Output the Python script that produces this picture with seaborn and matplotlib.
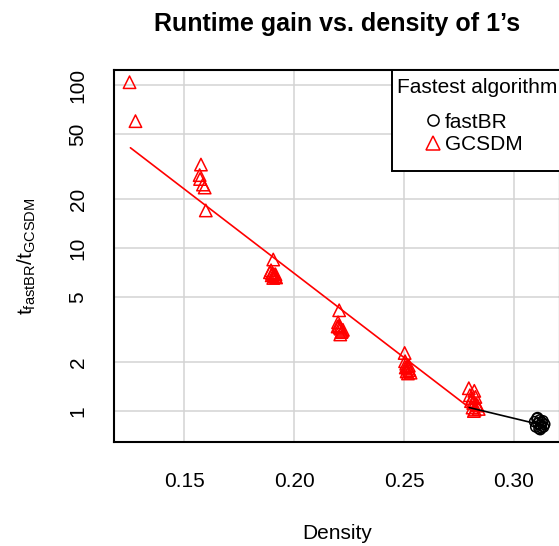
import numpy as np
import pandas as pd
import matplotlib
matplotlib.use("Agg")
import matplotlib.pyplot as plt
import seaborn as sns
from matplotlib.lines import Line2D
from matplotlib.patches import Rectangle
from matplotlib.ticker import NullLocator

# ---------------- data ----------------
gcsdm_density = [0.1251, 0.1278,
                 0.1576, 0.1570, 0.1572, 0.1585, 0.1593, 0.1598,
                 0.1905, 0.1895, 0.1900, 0.1908, 0.1912, 0.1898, 0.1918, 0.1905, 0.1915, 0.1890,
                 0.2205, 0.2200, 0.2205, 0.2212, 0.2218, 0.2208, 0.2222, 0.2198, 0.2215, 0.2210,
                 0.2503, 0.2505, 0.2510, 0.2515, 0.2520, 0.2508, 0.2525, 0.2530, 0.2512, 0.2518, 0.2522,
                 0.2795, 0.2820, 0.2800, 0.2810, 0.2825, 0.2805, 0.2815, 0.2830, 0.2812, 0.2822,
                 0.2835, 0.2840, 0.2818]
gcsdm_ratio = [104, 60,
               32.5, 28, 26.5, 24.5, 23.5, 17,
               8.5, 7.3, 7.0, 6.9, 6.7, 6.8, 6.6, 6.55, 6.9, 7.1,
               4.15, 3.5, 3.35, 3.2, 3.1, 3.25, 3.15, 3.3, 3.05, 2.95,
               2.27, 2.02, 1.95, 1.88, 1.82, 1.85, 1.78, 1.72, 1.75, 1.70, 1.90,
               1.38, 1.33, 1.25, 1.20, 1.22, 1.15, 1.12, 1.10, 1.05, 1.02,
               1.08, 1.03, 1.00]
fastbr_density = [0.3095, 0.3105, 0.3110, 0.3118, 0.3122, 0.3100, 0.3128,
                  0.3135, 0.3115, 0.3140, 0.3125, 0.3108, 0.3132, 0.3120]
fastbr_ratio = [0.86, 0.90, 0.84, 0.88, 0.82, 0.80, 0.85,
                0.80, 0.78, 0.83, 0.79, 0.91, 0.87, 0.77]

red_trend_density = [0.1255, 0.2797]
red_trend_ratio = [41.2, 1.05]
black_trend_density = [0.2797, 0.3112]
black_trend_ratio = [1.05, 0.83]

x_ticks = [0.15, 0.20, 0.25, 0.30]
x_tick_labels = ["0.15", "0.20", "0.25", "0.30"]
y_ticks = [1, 2, 5, 10, 20, 50, 100]
y_tick_labels = ["1", "2", "5", "10", "20", "50", "100"]
algorithms = ["fastBR", "GCSDM"]

title_text = "Runtime gain vs. density of 1\u2019s"
x_label = "Density"
y_label = r"$\mathrm{t}_{\mathrm{fastBR}}/\mathrm{t}_{\mathrm{GCSDM}}$"
legend_title = "Fastest algorithm"

# ---------------- style ----------------
sns.set_style("white")
plt.rcParams["font.family"] = ["Liberation Sans", "DejaVu Sans"]
plt.rcParams["mathtext.fontset"] = "custom"
plt.rcParams["mathtext.rm"] = "Liberation Sans"
plt.rcParams["mathtext.it"] = "Liberation Sans:italic"
plt.rcParams["mathtext.bf"] = "Liberation Sans:bold"
for key in ["text.color", "axes.labelcolor", "xtick.color", "ytick.color",
            "axes.edgecolor", "xtick.labelcolor", "ytick.labelcolor"]:
    plt.rcParams[key] = "black"

W, H = 559, 546
fig = plt.figure(figsize=(W / 100, H / 100), dpi=100)
left, right, top, bottom = 113.5, 560.0, 70.0, 442.3
ax = fig.add_axes([left / W, 1 - bottom / H, (right - left) / W, (bottom - top) / H])
ax.set_yscale("log")

df = pd.DataFrame({
    "density": gcsdm_density + fastbr_density,
    "ratio": gcsdm_ratio + fastbr_ratio,
    "algo": ["GCSDM"] * len(gcsdm_density) + ["fastBR"] * len(fastbr_density),
})

colors = {"fastBR": "black", "GCSDM": "red"}
markers = {"fastBR": "o", "GCSDM": "^"}
sizes = {"fastBR": 55, "GCSDM": 80}
for algo in ["GCSDM", "fastBR"]:
    sub = df[df["algo"] == algo]
    sns.scatterplot(data=sub, x="density", y="ratio", marker=markers[algo],
                    s=sizes[algo], color=colors[algo], linewidth=1.1,
                    legend=False, ax=ax, zorder=3)
    coll = ax.collections[-1]
    coll.set_facecolor("none")
    coll.set_edgecolor(colors[algo])

sns.lineplot(x=red_trend_density, y=red_trend_ratio, color="red", lw=1.2,
             estimator=None, sort=False, ax=ax, zorder=4)
sns.lineplot(x=black_trend_density, y=black_trend_ratio, color="black", lw=1.2,
             estimator=None, sort=False, ax=ax, zorder=4)

ax.set_xlim(0.1178, 0.3210)
ax.set_ylim(0.643, 123.6)
ax.set_xticks(x_ticks)
ax.set_xticklabels(x_tick_labels)
ax.set_yticks(y_ticks)
ax.set_yticklabels(y_tick_labels)
ax.yaxis.set_minor_locator(NullLocator())
ax.xaxis.set_minor_locator(NullLocator())
ax.tick_params(axis="both", which="major", direction="out", length=9.5, width=1.4,
               color="black", labelsize=15, pad=12, labelcolor="black")
for lbl in ax.get_yticklabels():
    lbl.set_rotation(90)
    lbl.set_rotation_mode("anchor")
    lbl.set_ha("center")
    lbl.set_va("baseline")

ax.grid(True, color="#D3D3D3", lw=1.1)
ax.set_axisbelow(True)
for sp in ax.spines.values():
    sp.set_visible(True)
    sp.set_color("black")
    sp.set_linewidth(1.5)

ax.set_xlabel(x_label, fontsize=15, labelpad=24)
ax.set_ylabel(y_label, fontsize=15, labelpad=22)
ax.set_title(title_text, fontsize=18, fontweight="bold", pad=28)

# legend box (frame drawn as a rectangle so that paddings match the reference)
frame = Rectangle((392.3 / W, 1 - 170.7 / H), (640 - 392.3) / W, (170.7 - 70) / H,
                  transform=fig.transFigure, facecolor="white", edgecolor="black",
                  linewidth=1.4, clip_on=False, zorder=4.5)
ax.add_patch(frame)

handles = [
    Line2D([], [], ls="none", marker=markers[a], mfc="none", mec=colors[a],
           ms=8 if a == "fastBR" else 9.5, mew=1.1)
    for a in algorithms
]
leg = ax.legend(handles, algorithms, title=legend_title, loc="upper left",
                bbox_to_anchor=(397 / W, 1 - 78.5 / H), bbox_transform=fig.transFigure,
                frameon=False, fontsize=15, title_fontsize=15, alignment="left",
                handlelength=3.5, handletextpad=-1.2, borderpad=0,
                labelspacing=0.15, borderaxespad=0)
leg._legend_box.sep = 11
leg.set_zorder(5)

fig.savefig("out.png", dpi=100)
